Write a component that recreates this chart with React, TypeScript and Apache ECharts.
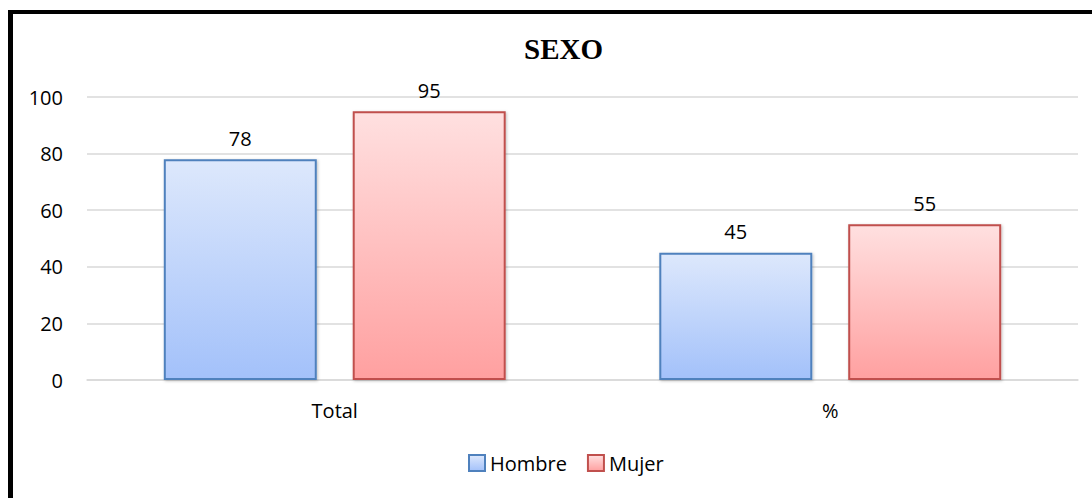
import React, { useEffect, useRef } from "react";
import * as echarts from "echarts";

const categories = ["Total", "%"];
const hombre = [78, 45];
const mujer = [95, 55];
const seriesNames = ["Hombre", "Mujer"];
const yTicks = { min: 0, max: 100, interval: 20 };

export default function App() {
  const ref = useRef<HTMLDivElement>(null);
  useEffect(() => {
    if (!ref.current) return;
    const chart = echarts.init(ref.current, undefined, { renderer: "svg" });
    const font = "Open Sans, Noto Sans, sans-serif";
    const grad = (a: string, b: string) =>
      new echarts.graphic.LinearGradient(0, 0, 0, 1, [
        { offset: 0, color: a },
        { offset: 1, color: b },
      ]);
    chart.setOption({
      animation: false,
      backgroundColor: "#ffffff",
      title: {
        text: "SEXO",
        left: 519,
        top: 29,
        textStyle: { fontFamily: "Liberation Serif, Times New Roman, serif", fontWeight: "bold", fontSize: 29, color: "#000" },
      },
      legend: {
        bottom: 20,
        left: 463,
        itemWidth: 16,
        itemHeight: 16,
        itemGap: 20,
        icon: "rect",
        textStyle: { fontFamily: font, fontSize: 20, color: "#000" },
        data: seriesNames,
      },
      graphic: [
        { type: "rect", shape: { x: 8, y: 10, width: 1084, height: 4 }, style: { fill: "#000" } },
        { type: "rect", shape: { x: 8, y: 10, width: 5, height: 488 }, style: { fill: "#000" } },
      ],
      grid: { left: 87, right: 14, top: 97, bottom: 118 },
      xAxis: {
        type: "category",
        data: categories,
        axisLine: { lineStyle: { color: "#d9d9d9", width: 1.5 } },
        axisTick: { show: false },
        axisLabel: { fontFamily: font, fontSize: 20, color: "#000", margin: 20 },
      },
      yAxis: {
        type: "value",
        min: yTicks.min,
        max: yTicks.max,
        interval: yTicks.interval,
        axisLine: { show: false },
        axisTick: { show: false },
        splitLine: { lineStyle: { color: "#d9d9d9", width: 1.5 } },
        axisLabel: { fontFamily: font, fontSize: 20, color: "#000", margin: 24 },
      },
      series: [
        {
          name: seriesNames[0],
          type: "bar",
          data: hombre,
          barGap: "23.5%",
          barCategoryGap: "31%",
          itemStyle: {
            color: grad("#dde8fc", "#a3c1fa"),
            borderColor: "#4f81bd",
            borderWidth: 2,
            shadowColor: "rgba(0,0,0,0.25)",
            shadowBlur: 3,
            shadowOffsetX: 1,
            shadowOffsetY: 1,
          },
          label: { show: true, position: "top", distance: 11, fontFamily: font, fontSize: 20, color: "#000" },
        },
        {
          name: seriesNames[1],
          type: "bar",
          data: mujer,
          barGap: "23.5%",
          barCategoryGap: "31%",
          itemStyle: {
            color: grad("#ffe0e0", "#ffa0a0"),
            borderColor: "#c0504d",
            borderWidth: 2,
            shadowColor: "rgba(0,0,0,0.25)",
            shadowBlur: 3,
            shadowOffsetX: 1,
            shadowOffsetY: 1,
          },
          label: { show: true, position: "top", distance: 11, fontFamily: font, fontSize: 20, color: "#000" },
        },
      ],
    });
    return () => chart.dispose();
  }, []);
  return (
    <div
      ref={ref}
      style={{ position: "absolute", left: 0, top: 0, width: 1092, height: 498 }}
    />
  );
}
